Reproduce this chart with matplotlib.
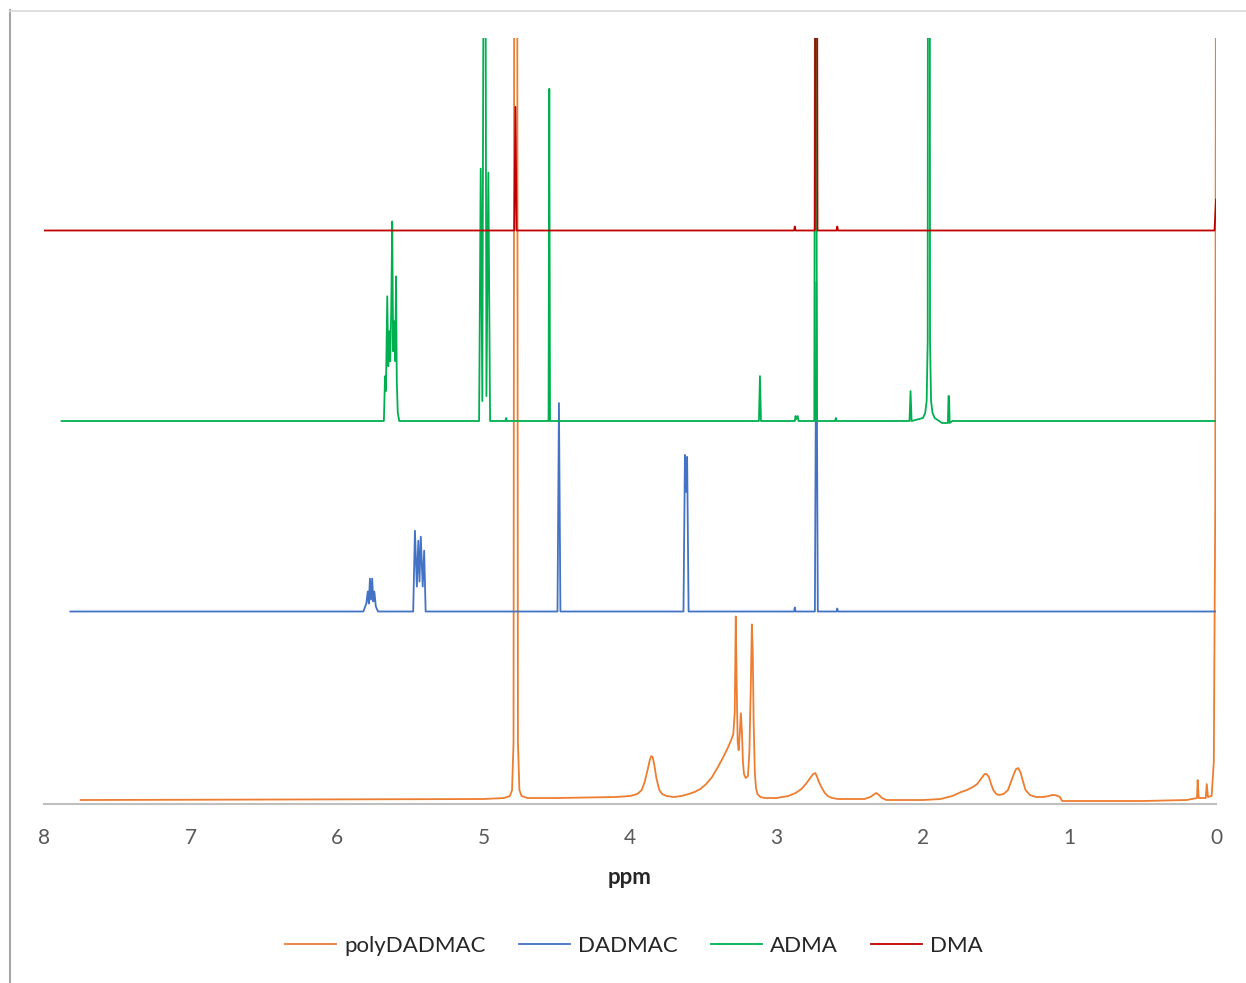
import numpy as np
import matplotlib
matplotlib.use("Agg")
import matplotlib.pyplot as plt
from matplotlib.lines import Line2D

plt.rcParams['font.family'] = ['Lato', 'DejaVu Sans']

# traces: chemical shift (ppm) and height above own baseline (px units)
poly_ppm = [7.75, 5.0, 4.86, 4.82, 4.805, 4.795, 4.79, 4.77, 4.765, 4.755, 4.74, 4.70, 4.5, 4.1,
            4.0, 3.95, 3.92, 3.90, 3.88, 3.865, 3.855, 3.845, 3.835, 3.82, 3.80, 3.78, 3.75, 3.70,
            3.65, 3.60, 3.56, 3.52, 3.48, 3.44, 3.40, 3.36, 3.33, 3.31, 3.295, 3.285, 3.278, 3.272,
            3.265, 3.258, 3.25, 3.243, 3.236, 3.229, 3.222, 3.21, 3.195, 3.185, 3.175, 3.168, 3.162,
            3.156, 3.148, 3.14, 3.13, 3.11, 3.08, 3.0, 2.92, 2.87, 2.83, 2.80, 2.77, 2.75, 2.735,
            2.725, 2.71, 2.69, 2.67, 2.65, 2.62, 2.58, 2.40, 2.36, 2.34, 2.32, 2.30, 2.28, 2.25,
            2.0, 1.88, 1.80, 1.74, 1.70, 1.66, 1.63, 1.60, 1.58, 1.565, 1.55, 1.535, 1.52, 1.50,
            1.48, 1.45, 1.42, 1.40, 1.38, 1.365, 1.35, 1.335, 1.32, 1.30, 1.27, 1.23, 1.18, 1.14,
            1.12, 1.10, 1.08, 1.065, 1.05, 0.80, 0.50, 0.20, 0.13, 0.125, 0.118, 0.07, 0.063, 0.055,
            0.03, 0.015, 0.005, 0.0]
poly_int = [2, 3, 4, 6, 12, 60, 900, 900, 60, 12, 6, 4, 4, 5,
            6, 8, 12, 20, 32, 42, 46, 45, 38, 24, 12, 8, 6, 5,
            6, 8, 10, 13, 18, 25, 35, 46, 55, 62, 68, 90, 186, 120,
            60, 52, 70, 89, 70, 40, 28, 24, 26, 50, 120, 178, 150,
            80, 30, 14, 8, 5, 4, 4, 6, 9, 13, 18, 24, 28, 29,
            26, 20, 14, 9, 6, 4, 3, 3, 5, 7, 9, 7, 4, 2,
            2, 3, 6, 10, 12, 15, 18, 24, 28, 28, 25, 18, 12, 8,
            7, 8, 12, 20, 28, 33, 34, 30, 22, 12, 7, 5, 5, 6,
            7, 7, 6, 5, 1, 1, 1, 2, 4, 22, 4, 4, 18, 5,
            6, 40, 300, 900]

dadmac_ppm = [7.82, 5.82, 5.80, 5.79, 5.783, 5.775, 5.768, 5.76, 5.752, 5.745, 5.735, 5.72,
              5.48, 5.468, 5.455, 5.445, 5.437, 5.428, 5.415, 5.405, 5.395,
              4.495, 4.485, 4.475, 3.635, 3.625, 3.617, 3.61, 3.60,
              2.88, 2.875, 2.87, 2.738, 2.728, 2.718, 2.59, 2.585, 2.58, 0.0]
dadmac_int = [0, 0, 8, 20, 8, 33, 12, 33, 10, 20, 5, 0,
              0, 81, 25, 71, 30, 75, 25, 61, 0,
              0, 209, 0, 0, 157, 120, 155, 0,
              0, 4, 0, 0, 330, 0, 0, 3, 0, 0]

adma_ppm = [7.88, 5.68, 5.672, 5.666, 5.657, 5.650, 5.643, 5.637, 5.630, 5.623, 5.617, 5.610,
            5.603, 5.597, 5.592, 5.585, 5.575,
            5.03, 5.019, 5.008, 4.992, 4.98, 4.967, 4.955, 4.85, 4.845, 4.84,
            4.556, 4.551, 4.546, 3.12, 3.113, 3.106, 2.875, 2.87, 2.865, 2.855, 2.85,
            2.742, 2.733, 2.724, 2.60, 2.595, 2.59,
            2.092, 2.085, 2.078, 2.0, 1.985, 1.975, 1.968, 1.965, 1.955, 1.952, 1.945, 1.935,
            1.92, 1.87, 1.83, 1.826, 1.822, 1.818, 1.80, 0.0]
adma_int = [0, 0, 45, 30, 125, 55, 90, 60, 110, 200, 70, 100,
            60, 145, 40, 8, 0,
            0, 253, 20, 900, 25, 249, 0, 0, 3, 0,
            0, 333, 0, 0, 45, 0, 0, 5, 2, 5, 0,
            0, 900, 0, 0, 3, 0,
            0, 30, 0, 3, 8, 20, 80, 900, 900, 80, 20, 8,
            3, -2, -2, 25, 25, -2, 0, 0]

dma_ppm = [8.0, 4.79, 4.782, 4.774, 2.88, 2.875, 2.87, 2.738, 2.729, 2.72, 2.59, 2.585, 2.58,
           0.01, 0.0]
dma_int = [0, 0, 124, 0, 0, 4, 0, 0, 900, 0, 0, 4, 0,
           0, 31]

names = ["polyDADMAC", "DADMAC", "ADMA", "DMA"]
offsets = [0, 191, 382, 573]
colors = ["#ED7D31", "#4472C4", "#00B050", "#C00000"]
xticks = [8, 7, 6, 5, 4, 3, 2, 1, 0]

fig = plt.figure(figsize=(12.46, 9.83), dpi=100)
ax = fig.add_axes([44/1246, (983-804)/983, (1216-44)/1246, (804-38)/983])

traces = [(poly_ppm, poly_int), (dadmac_ppm, dadmac_int), (adma_ppm, adma_int), (dma_ppm, dma_int)]
for (px, py), off, c, name in zip(traces, offsets, colors, names):
    ax.plot(px, np.array(py) + off, color=c, linewidth=1.3, label=name)

for s in ['top', 'right', 'left']:
    ax.spines[s].set_visible(False)
ax.spines['bottom'].set_color("#BFBFBF")
ax.spines['bottom'].set_linewidth(1.5)

ax.set_xlim(8, 0)
ax.set_ylim(-2, 766)
ax.set_xticks(xticks)
ax.set_xticklabels([str(t) for t in xticks])
ax.tick_params(axis='x', length=0, pad=17, labelsize=15, labelcolor="#595959")
ax.set_yticks([])
ax.set_xlabel("ppm", fontsize=16, fontweight='bold', color="#262626", labelpad=14)

fig.legend(loc='center', bbox_to_anchor=(634/1246, (983-946)/983), ncol=4, frameon=False,
           fontsize=16, handlelength=2.3, handletextpad=0.35, columnspacing=1.5,
           labelcolor="#262626")

# partial outer border of the original picture
fig.add_artist(Line2D([10/1246, 10/1246], [0, 1 - 10/983], color="#A6A6A6", linewidth=1.5))
fig.add_artist(Line2D([10/1246, 1], [1 - 11/983, 1 - 11/983], color="#D9D9D9", linewidth=1.2))

fig.savefig("out.png", dpi=100)
